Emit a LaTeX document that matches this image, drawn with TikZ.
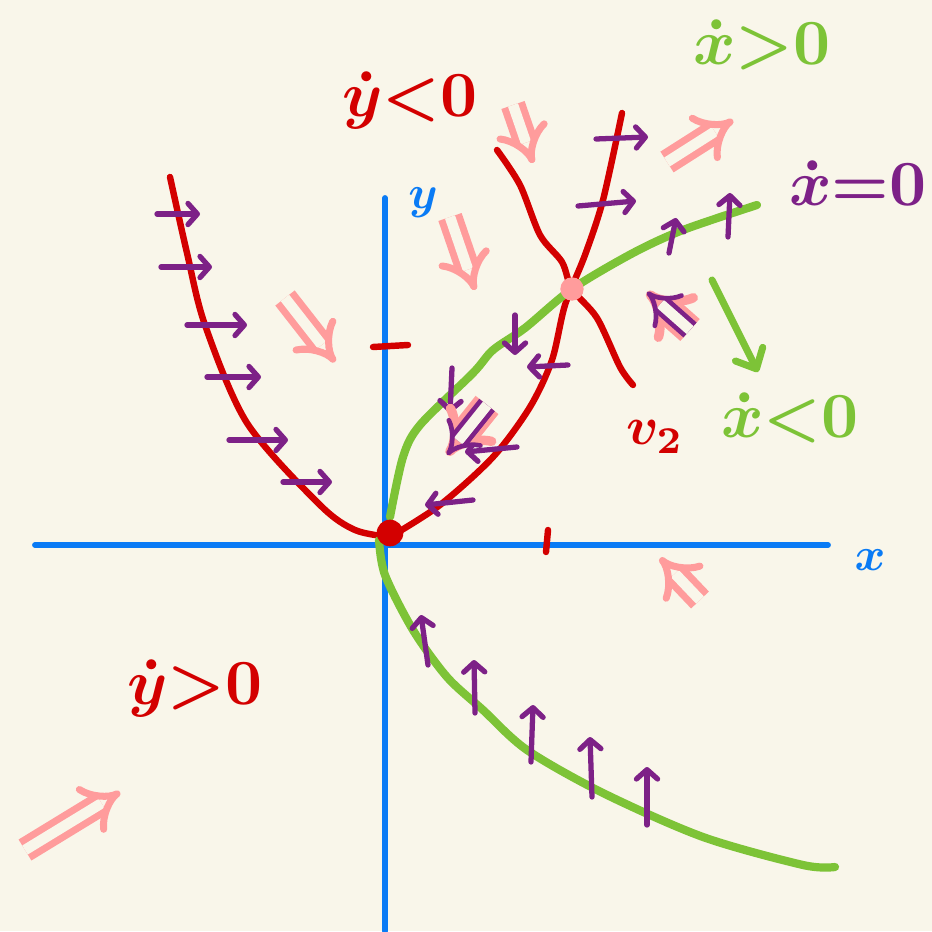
\documentclass[tikz,border=0pt]{standalone}
\usepackage{amsmath}
\usepackage{xcolor}
\usepackage{tikz}
\usetikzlibrary{arrows.meta}
\definecolor{paper}{HTML}{F9F6EA}
\definecolor{axisblue}{HTML}{0A7BF5}
\definecolor{nullred}{HTML}{D30000}
\definecolor{nullgreen}{HTML}{7DC337}
\definecolor{flowpurple}{HTML}{7D2187}
\definecolor{hintpink}{HTML}{FF9C9C}

\begin{document}
\begin{tikzpicture}[
  x=0.03cm, y=-0.03cm,
  every node/.style={inner sep=0pt},
  axis/.style={draw=axisblue, line width=5pt, line cap=round},
  ycline/.style={draw=nullred, line width=5.5pt, line cap=round, line join=round},
  xcline/.style={draw=nullgreen, line width=7pt, line cap=round, line join=round},
  flow/.style={draw=flowpurple, line width=4.5pt, line cap=round,
               -{Straight Barb[length=8pt, width=18pt, round]}},
  hint/.style={draw=hintpink, line width=6pt, double=paper,
               double distance=9pt, line cap=butt,
               -{Implies[round, length=13pt, width=44pt]}},
  hintmix/.style={hint, draw=flowpurple, line width=4pt},
  lbl/.style={scale=5.5, font=\boldmath},
  axlbl/.style={scale=4, font=\boldmath, text=axisblue}
]

%% paper
\fill[paper] (0,0) rectangle (932,931);
\useasboundingbox (0,0) rectangle (932,931);

%% axes
\draw[axis] (385,931) -- (385,198);
\draw[axis] (35,545) -- (828,545);
\node[axlbl] (ylab) at (423,203) {$y$};
\node[axlbl] (xlab) at (870,560) {$x$};

%% y-dot = 0 (red)
\draw[ycline] plot[smooth, tension=0.5] coordinates {
  (170,177) (187,253) (205,325) (247,423)
  (320,505) (355,530) (390,537)};
\draw[ycline] plot[smooth, tension=0.5] coordinates {
  (390,537) (440,505) (493,457) (530,407)
  (552,360) (565,305) (585,255) (603,200) (622,113)};
\draw[ycline] (373,347) -- (408,345);
\draw[ycline] (548,530) -- (546,552);

%% v2 direction
\draw[ycline] plot[smooth, tension=0.5] coordinates {
  (497,150) (520,185) (540,235) (562,262)
  (572,289) (597,318) (620,367) (633,385)};

%% x-dot = 0 (green)
\draw[xcline] plot[smooth, tension=0.5] coordinates {
  (390,517) (403,457) (420,425) (473,373) (493,350)
  (525,328) (572,289) (633,253) (683,230) (757,205)};
\draw[xcline] plot[smooth, tension=0.5] coordinates {
  (379,540) (385,575) (413,630) (447,677) (483,710)
  (527,750) (603,793) (703,837) (803,865) (835,867)};

%% equilibria
\node[circle, fill=nullred, minimum size=0.8cm] (orig) at (390,533) {};
\node[circle, fill=hintpink, minimum size=0.7cm] (sad) at (572,289) {};

%% flow on the nullclines
\foreach \xa/\ya/\xb/\yb in {157/214/200/214, 161/267/212/267,
    187/325/247/325, 207/377/261/377, 229/440/288/440, 283/482/332/482,
    596/139/648/137, 578/206/636/201}
  \draw[flow] (\xa,\ya) -- (\xb,\yb);
\foreach \xa/\ya/\xb/\yb in {669/253/676/218, 728/237/730/193,
    515/315/515/355, 452/368/450/413}
  \draw[flow] (\xa,\ya) -- (\xb,\yb);
\foreach \xa/\ya/\xb/\yb in {568/365/527/367, 517/447/465/452,
    473/500/425/505}
  \draw[flow] (\xa,\ya) -- (\xb,\yb);
\foreach \xa/\ya/\xb/\yb in {428/665/421/615, 475/713/474/660,
    531/762/533/705, 592/797/590/737, 647/825/647/767}
  \draw[flow] (\xa,\ya) -- (\xb,\yb);

%% region hints
\foreach \xa/\ya/\xb/\yb in {513/105/533/163, 450/217/475/290,
    285/298/335/362, 667/162/733/120, 700/600/660/558, 25/850/120/792}
  \draw[hint] (\xa,\ya) -- (\xb,\yb);
\draw[hint, line width=8pt] (690,330) -- (647,292);
\draw[hintmix] (690,330) -- (647,292);
\draw[hint, line width=8pt] (487,405) -- (447,455);
\draw[hintmix] (487,405) -- (447,455);

%% green hint arrow
\draw[xcline, line width=6pt, -{Straight Barb[length=14pt, width=26pt, round]}]
  (712,280) -- (758,372);

%% labels
\node[lbl, text=nullred] (yneg) at (410,100) {$\dot{y}{<}0$};
\node[lbl, text=nullred] (ypos) at (195,688) {$\dot{y}{>}0$};
\node[lbl, text=nullgreen] (xpos) at (762,45) {$\dot{x}{>}0$};
\node[lbl, text=flowpurple] (xzero) at (858,183) {$\dot{x}{=}0$};
\node[lbl, text=nullgreen] (xneg) at (790,418) {$\dot{x}{<}0$};
\node[lbl, scale=0.84, text=nullred] (vtwo) at (655,437) {$v_2$};

\end{tikzpicture}
\end{document}
